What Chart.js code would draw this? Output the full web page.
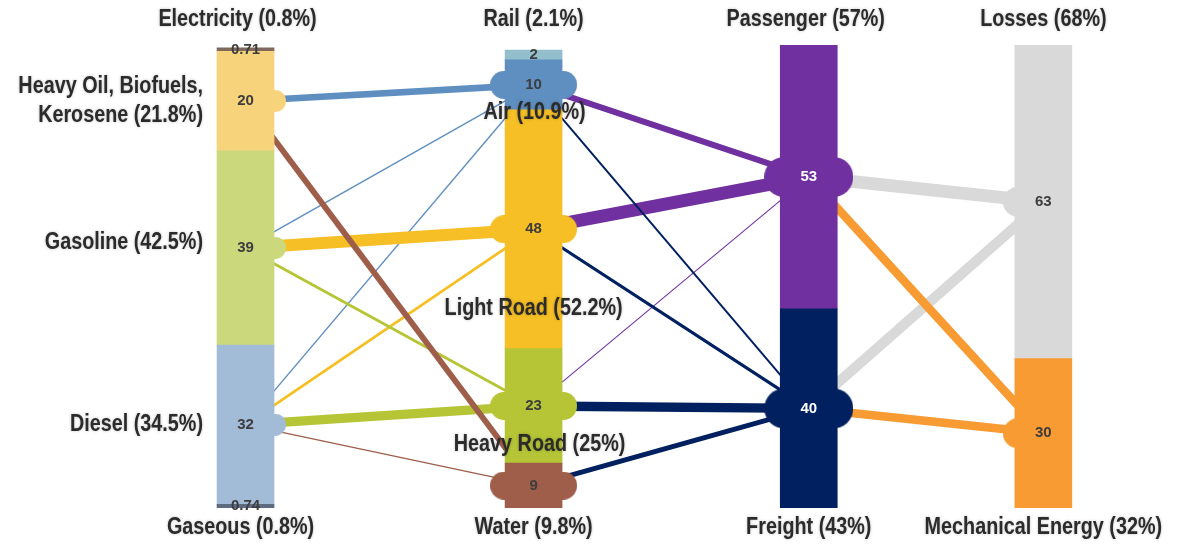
<!DOCTYPE html>
<html>
<head>
<meta charset="utf-8">
<script src="https://cdn.jsdelivr.net/npm/chart.js@4.4.0/dist/chart.umd.min.js"></script>
<style>
  html, body { margin: 0; padding: 0; background: #fff; }
  #wrap { width: 1180px; height: 549px; position: relative; }
</style>
</head>
<body>
<div id="wrap"><canvas id="flowChart"></canvas></div>
<script>
// Nodes, listed top to bottom inside each column
const nodeNames = ['Electricity', 'Heavy Oil, Biofuels,\nKerosene', 'Gasoline', 'Diesel', 'Gaseous',
  'Rail', 'Air', 'Light Road', 'Heavy Road', 'Water',
  'Passenger', 'Freight',
  'Losses', 'Mechanical Energy'];
const nodeColumn = [0, 0, 0, 0, 0, 1, 1, 1, 1, 1, 2, 2, 3, 3];
const nodeValues = [0.71, 20, 39, 32, 0.74, 2, 10, 48, 23, 9, 53, 40, 63, 30];
const nodeShares = [0.8, 21.8, 42.5, 34.5, 0.8, 2.1, 10.9, 52.2, 25, 9.8, 57, 43, 68, 32];

// Flows between nodes (indexes into nodeNames)
const linkFrom   = [1, 1, 2, 2, 2, 3, 3, 3, 3, 6, 6, 7, 7, 8, 8, 9, 10, 10, 11, 11];
const linkTo     = [6, 9, 6, 7, 8, 6, 7, 8, 9, 10, 11, 10, 11, 10, 11, 11, 12, 13, 12, 13];
const linkValues = [11, 8.5, 0.5, 36, 2, 0.5, 2, 22, 0.5, 9, 1, 42, 2.5, 0.3, 22, 6, 42, 18, 26, 18];

// Styling
const nodeColors = ['#7d6a5c', '#f7d37c', '#cbd97c', '#a2bbd6', '#5c6b80',
  '#93bfcc', '#5f8fc0', '#f6bf25', '#b6c536', '#9e5e4a',
  '#7030a0', '#002060', '#d9d9d9', '#f89b32'];
const valueColors = nodeColumn.map((c, i) => (i === 10 || i === 11) ? '#ffffff' : '#3d3d3d');
const columnX = [242, 533, 811, 1048];   // column positions along the x axis
const barWidth = 57;
const bulbRadius = [11, 14, 20, 15];
const bulbReach = [12, 15, 16, 12];
const namePlace = ['top', 'left', 'left', 'left', 'bottom', 'top', 'in', 'in', 'in', 'bottom', 'top', 'bottom', 'top', 'bottom'];
const nameShift = [[-8, 0], [0, 0], [0, -5], [0, 0], [-5, 0], [0, 0], [1, 3], [0, -40], [6, -19], [0, 0], [-3, 0], [0, 0], [0, 0], [0, 0]];
const nameFont = 'bold 23px "Liberation Sans", Arial, sans-serif';
const valueFont = 'bold 15px "Liberation Sans", Arial, sans-serif';

// stack nodes in each column from the bottom up
const nodeLow = [], nodeHigh = [];
columnX.forEach((cx, c) => {
  let base = 0;
  for (let i = nodeNames.length - 1; i >= 0; i--) {
    if (nodeColumn[i] !== c) continue;
    nodeLow[i] = base;
    base += nodeValues[i];
    nodeHigh[i] = base;
  }
});
const nodeMid = nodeValues.map((v, i) => (nodeLow[i] + nodeHigh[i]) / 2);

// rounded bulb drawn behind a bar where links attach
function makeBulb(color, col, left, right) {
  const r = bulbRadius[col], reach = bulbReach[col];
  const c = document.createElement('canvas');
  c.width = barWidth + 2 * reach;
  c.height = 2 * r;
  const g = c.getContext('2d');
  g.fillStyle = color;
  if (left) { g.beginPath(); g.arc(r, r, r, 0, Math.PI * 2); g.fill(); }
  if (right) { g.beginPath(); g.arc(c.width - r, r, r, 0, Math.PI * 2); g.fill(); }
  return c;
}

const bulbNodes = nodeNames.map((n, i) => i).filter(i => linkFrom.includes(i) || linkTo.includes(i));
const bulbData = bulbNodes.map(i => ({ x: columnX[nodeColumn[i]], y: nodeMid[i] }));
const bulbStyles = bulbNodes.map(i => makeBulb(nodeColors[i], nodeColumn[i], linkTo.includes(i), linkFrom.includes(i)));

const linkSets = linkValues.map((v, k) => ({
  type: 'line',
  data: [
    { x: columnX[nodeColumn[linkFrom[k]]], y: nodeMid[linkFrom[k]] },
    { x: columnX[nodeColumn[linkTo[k]]], y: nodeMid[linkTo[k]] }
  ],
  borderColor: nodeColors[linkTo[k]],
  borderWidth: 2 * Math.sqrt(v),
  borderCapStyle: 'butt',
  pointRadius: 0,
  fill: false,
  order: 2
}));

function drawText(ctx, text, x, y, align, font, color, squeeze) {
  ctx.save();
  ctx.translate(x, y);
  ctx.scale(squeeze, 1);
  ctx.font = font;
  ctx.fillStyle = color;
  ctx.textAlign = align;
  ctx.textBaseline = 'middle';
  ctx.fillText(text, 0, 0);
  ctx.restore();
}

const labelPlugin = {
  id: 'nodeLabels',
  afterDatasetsDraw(chart) {
    const { ctx } = chart;
    const x = chart.scales.x, y = chart.scales.y;
    nodeNames.forEach((name, i) => {
      const cx = x.getPixelForValue(columnX[nodeColumn[i]]);
      const cy = y.getPixelForValue(nodeMid[i]);
      drawText(ctx, String(nodeValues[i]), cx, cy, 'center', valueFont, valueColors[i], 1);

      const lines = (name + ' (' + nodeShares[i] + '%)').split('\n');
      const [dx, dy] = nameShift[i];
      let tx = cx + dx, ty, align = 'center';
      if (namePlace[i] === 'top') ty = y.top - 25;
      else if (namePlace[i] === 'bottom') ty = y.bottom + 20;
      else if (namePlace[i] === 'left') { tx = cx - barWidth / 2 - 14 + dx; ty = cy; align = 'right'; }
      else ty = y.getPixelForValue(nodeLow[i]);
      ty += dy;
      ctx.save();
      ctx.shadowColor = 'rgba(0,0,0,0.25)';
      ctx.shadowBlur = 3;
      lines.forEach((line, j) => {
        drawText(ctx, line, tx, ty + (j - (lines.length - 1) / 2) * 29, align, nameFont, '#2b2b2b', 0.86);
      });
      ctx.restore();
    });
  }
};

new Chart(document.getElementById('flowChart'), {
  data: {
    datasets: [
      {
        type: 'bar',
        data: nodeNames.map((n, i) => ({ x: columnX[nodeColumn[i]], y: [nodeLow[i], nodeHigh[i]] })),
        backgroundColor: nodeColors,
        barThickness: barWidth,
        order: 0
      },
      {
        type: 'scatter',
        data: bulbData,
        pointStyle: bulbStyles,
        pointRadius: 5,
        order: 1
      },
      ...linkSets
    ]
  },
  options: {
    responsive: true,
    maintainAspectRatio: false,
    animation: false,
    events: [],
    layout: { padding: { top: 45, bottom: 41, left: 0, right: 0 } },
    scales: {
      x: { type: 'linear', display: false, offset: false, min: 0, max: 1180, ticks: { stepSize: 200 } },
      y: { type: 'linear', display: false, min: 0, max: 93 }
    },
    plugins: { legend: { display: false }, tooltip: { enabled: false } }
  },
  plugins: [labelPlugin]
});
</script>
</body>
</html>
